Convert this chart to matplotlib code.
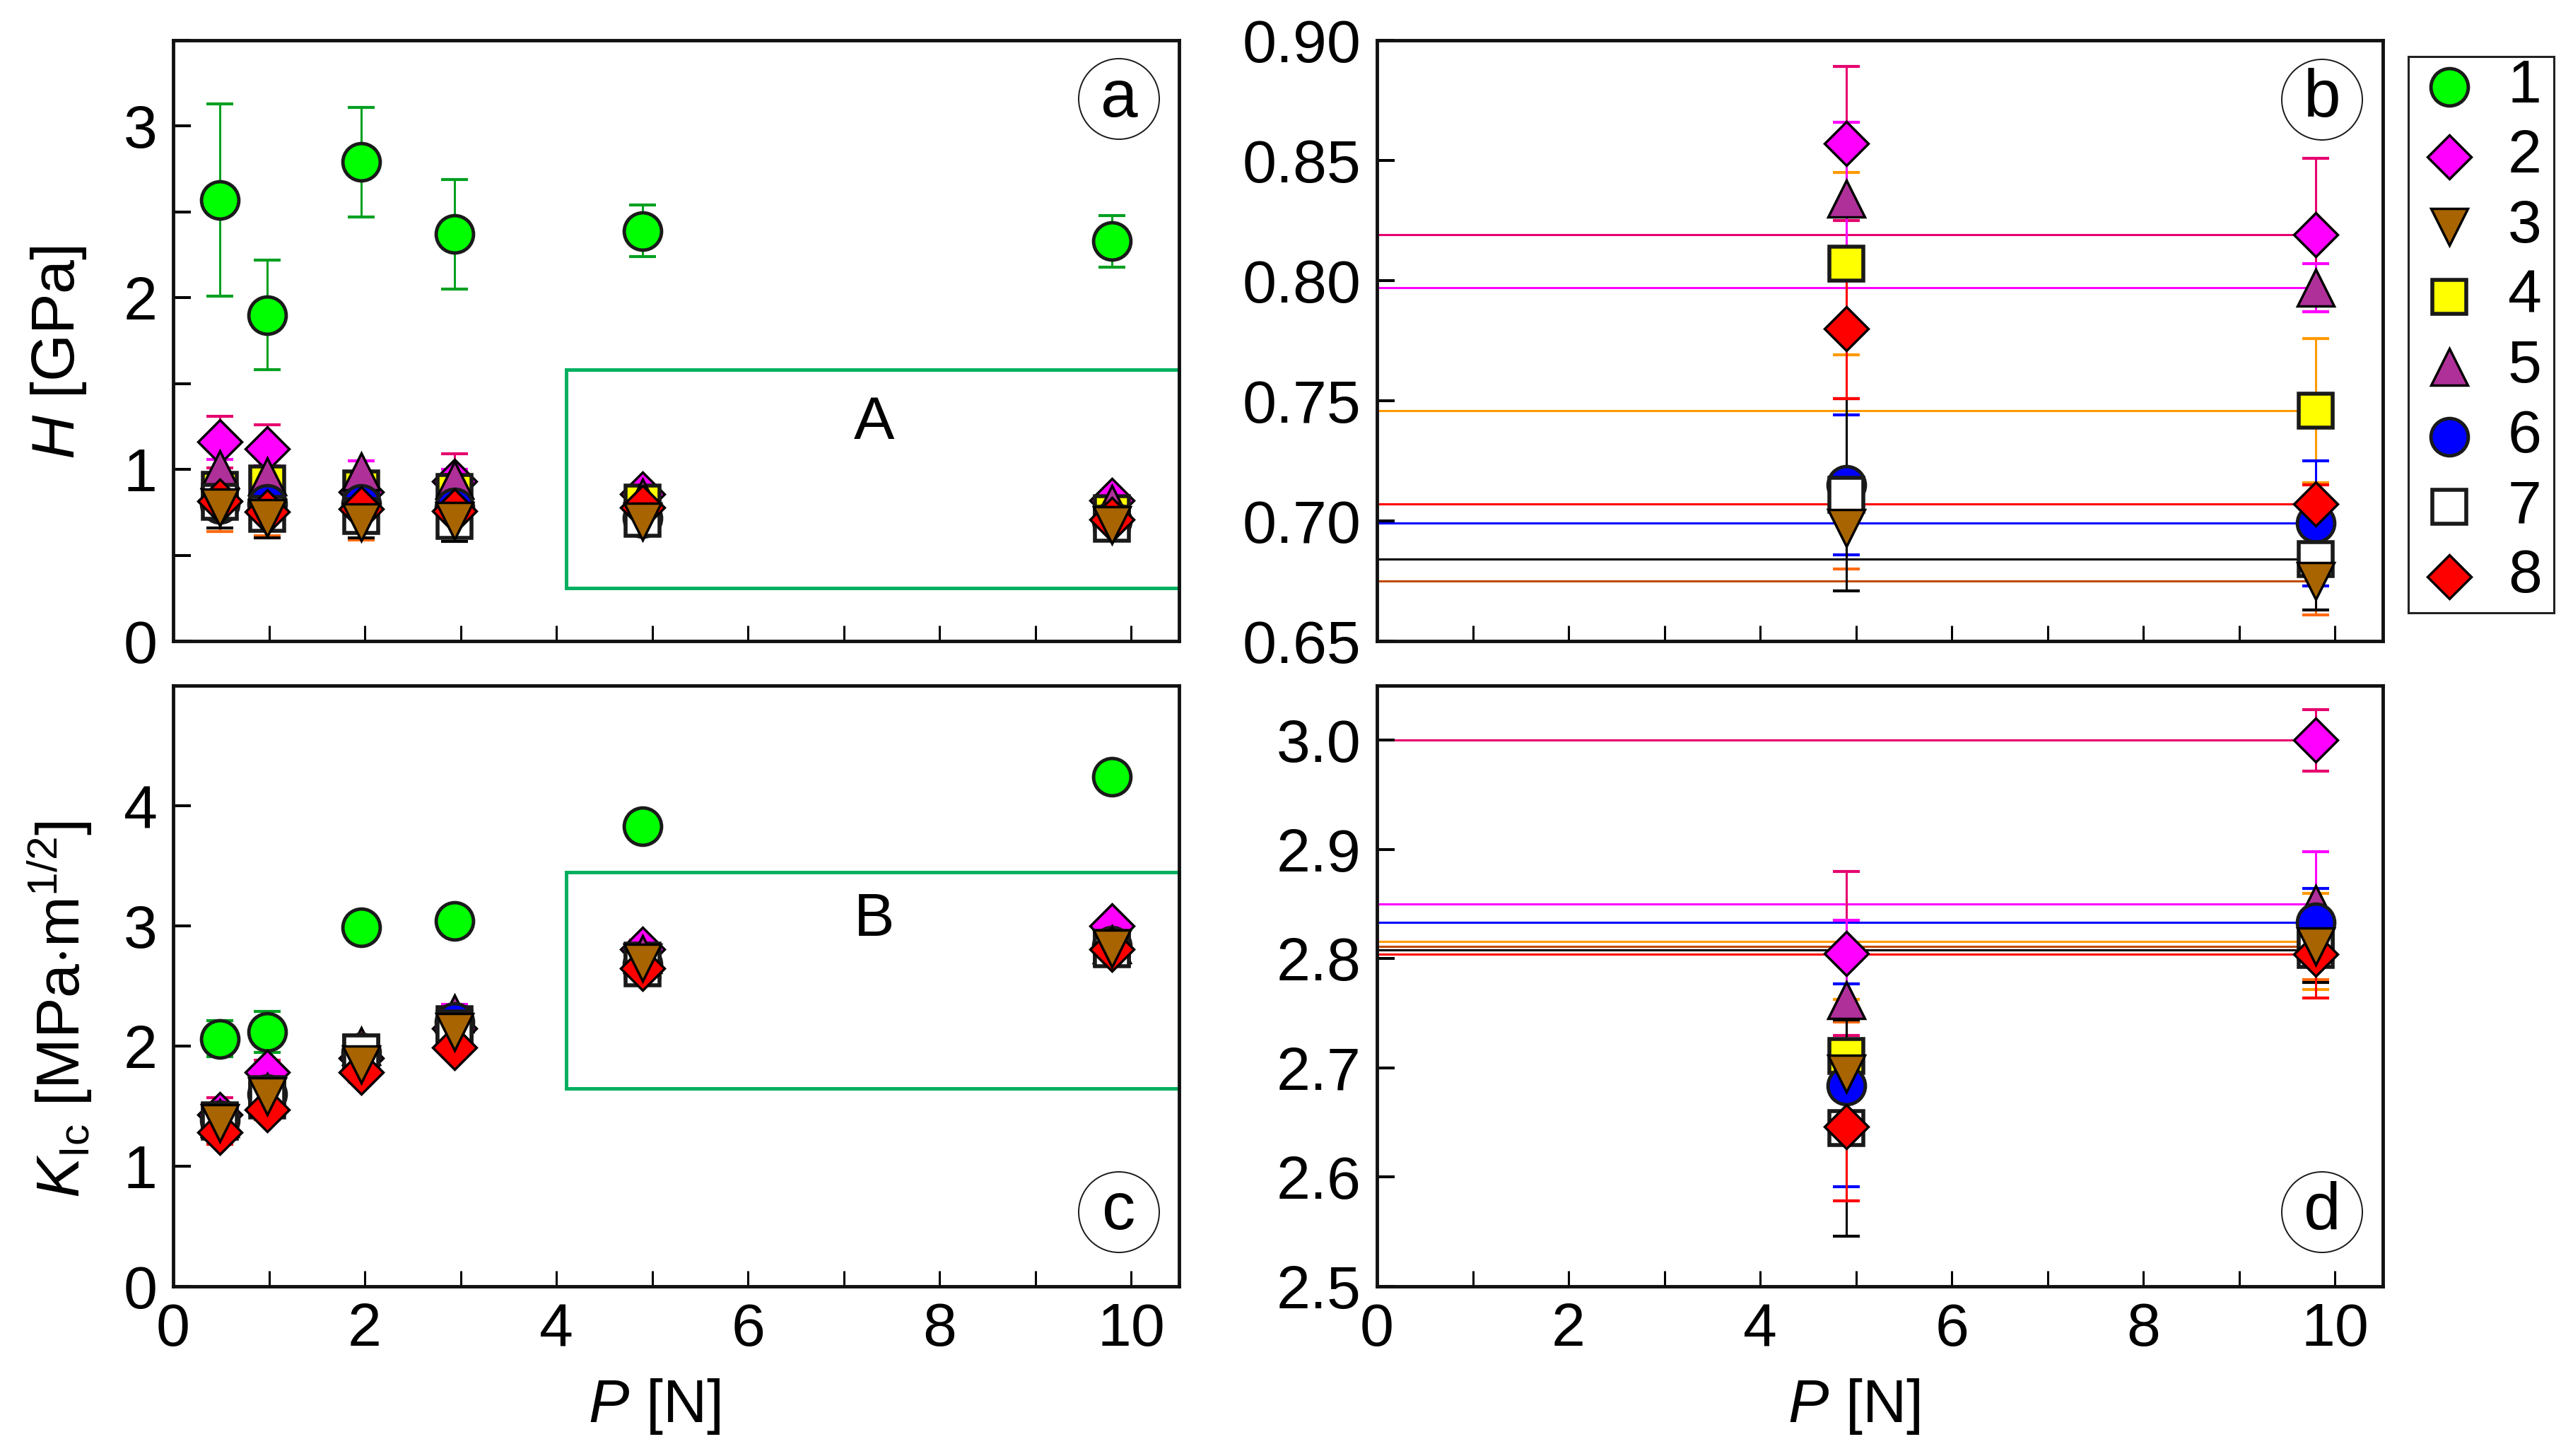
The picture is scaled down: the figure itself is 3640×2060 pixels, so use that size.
import matplotlib
matplotlib.use('Agg')
import matplotlib.pyplot as plt
from matplotlib.patches import Rectangle, Ellipse
from matplotlib.ticker import MultipleLocator, FixedLocator, FormatStrFormatter

plt.rcParams['font.family'] = ['Liberation Sans', 'DejaVu Sans']
plt.rcParams['mathtext.fontset'] = 'custom'
plt.rcParams['mathtext.rm'] = 'Liberation Sans'
plt.rcParams['mathtext.it'] = 'Liberation Sans:italic'
plt.rcParams['mathtext.bf'] = 'Liberation Sans:bold'

# ---------------- data ----------------
loads = [0.49, 0.98, 1.96, 2.94, 4.9, 9.8]          # P [N]
series_labels = ['1', '2', '3', '4', '5', '6', '7', '8']

# Hardness H [GPa]
H_1 = [2.57, 1.90, 2.79, 2.37, 2.39, 2.33]
H_2 = [1.16, 1.12, 0.87, 0.93, 0.857, 0.819]
H_3 = [0.78, 0.715, 0.69, 0.70, 0.697, 0.675]
H_4 = [0.88, 0.92, 0.89, 0.87, 0.807, 0.746]
H_5 = [1.00, 0.96, 0.99, 0.94, 0.834, 0.797]
H_6 = [0.80, 0.80, 0.80, 0.78, 0.715, 0.699]
H_7 = [0.81, 0.74, 0.73, 0.70, 0.711, 0.684]
H_8 = [0.816, 0.754, 0.768, 0.757, 0.780, 0.707]

H_err_1 = [0.56, 0.32, 0.32, 0.32, 0.15, 0.15]
H_err_2 = [0.15, 0.14, 0.18, 0.16, 0.032, 0.032]
H_err_3 = [0.14, 0.10, 0.10, 0.10, 0.017, 0.014]
H_err_4 = [0.06, 0.06, 0.06, 0.06, 0.038, 0.030]
H_err_5 = [0.06, 0.06, 0.06, 0.06, 0.032, 0.010]
H_err_6 = [0.06, 0.06, 0.06, 0.06, 0.029, 0.026]
H_err_7 = [0.15, 0.14, 0.13, 0.12, 0.040, 0.021]
H_err_8 = [0.05, 0.05, 0.05, 0.05, 0.029, 0.008]

# Fracture toughness K_Ic [MPa m^1/2]
K_1 = [2.06, 2.12, 2.99, 3.04, 3.83, 4.24]
K_2 = [1.43, 1.78, 1.90, 2.15, 2.805, 3.00]
K_3 = [1.36, 1.58, 1.85, 2.12, 2.695, 2.811]
K_4 = [1.38, 1.60, 1.95, 2.18, 2.711, 2.816]
K_5 = [1.40, 1.62, 2.00, 2.27, 2.762, 2.850]
K_6 = [1.38, 1.60, 1.95, 2.20, 2.684, 2.833]
K_7 = [1.37, 1.55, 1.95, 2.15, 2.645, 2.808]
K_8 = [1.28, 1.47, 1.78, 1.99, 2.646, 2.804]

K_err_1 = [0.15, 0.17, 0.05, 0.05, 0.05, 0.05]
K_err_2 = [0.14, 0.10, 0.10, 0.10, 0.075, 0.028]
K_err_3 = [0.08, 0.08, 0.08, 0.08, 0.047, 0.030]
K_err_4 = [0.08, 0.08, 0.08, 0.08, 0.052, 0.044]
K_err_5 = [0.08, 0.08, 0.08, 0.08, 0.073, 0.048]
K_err_6 = [0.08, 0.08, 0.08, 0.08, 0.093, 0.031]
K_err_7 = [0.08, 0.08, 0.08, 0.08, 0.099, 0.030]
K_err_8 = [0.10, 0.08, 0.08, 0.08, 0.068, 0.040]

H_vals = [H_1, H_2, H_3, H_4, H_5, H_6, H_7, H_8]
H_errs = [H_err_1, H_err_2, H_err_3, H_err_4, H_err_5, H_err_6, H_err_7, H_err_8]
K_vals = [K_1, K_2, K_3, K_4, K_5, K_6, K_7, K_8]
K_errs = [K_err_1, K_err_2, K_err_3, K_err_4, K_err_5, K_err_6, K_err_7, K_err_8]

# zoomed panels (b, d) show only the two highest loads
ZOOM_FROM = 4

# ---------------- styles ----------------
markers = ['o', 'D', 'v', 's', '^', 'o', 's', 'D']
faces = ['#00ff00', '#ff00ff', '#a86400', '#ffff00', '#b0309a', '#0000ff', '#ffffff', '#ff0000']
edges = ['#1a1a1a', '#000000', '#000000', '#1a1a1a', '#000000', '#1a1a1a', '#1a1a1a', '#000000']
msizes = [38, 32, 37, 34, 37, 38, 34, 32]
mews = [3.5, 2.5, 2.5, 4.0, 2.5, 3.5, 4.0, 2.5]
err_colors = ['#00a020', '#e6006e', '#ff6a10', '#ff9900', '#ff00ff', '#0000ff', '#000000', '#ff0000']
line_colors = ['#00a020', '#e6006e', '#c04a00', '#ff9900', '#ff00ff', '#0000ff', '#000000', '#ff0000']
zorders = [3, 4, 11, 5, 6, 7, 8, 10]

W, Hpx = 3640, 2060
fig = plt.figure(figsize=(W / 100, Hpx / 100), dpi=100)


def ax_at(l, t, r, b):
    return fig.add_axes([l / W, 1 - b / Hpx, (r - l) / W, (b - t) / Hpx])


ax_a = ax_at(245, 57, 1668, 907)
ax_b = ax_at(1948, 57, 3371, 907)
ax_c = ax_at(245, 970, 1668, 1820)
ax_d = ax_at(1948, 970, 3371, 1820)

FS = 62


def draw(ax, vals, errs, start, hlines):
    xs = loads[start:]
    for i in range(8):
        ax.errorbar(xs, vals[i][start:], yerr=errs[i][start:], fmt='none', ecolor=err_colors[i],
                    elinewidth=2.2, capsize=13.7, capthick=3.0, zorder=2)
    if hlines:
        for i in range(8):
            ax.hlines(vals[i][-1], 0, loads[-1], colors=line_colors[i], lw=2.2, zorder=1.5)
    for i in range(8):
        ax.plot(xs, vals[i][start:], linestyle='none', marker=markers[i], ms=msizes[i],
                mfc=faces[i], mec=edges[i], mew=mews[i], zorder=zorders[i])


def style(ax, show_x):
    ax.set_xlim(0, 10.5)
    ax.xaxis.set_major_locator(MultipleLocator(2))
    ax.xaxis.set_minor_locator(MultipleLocator(1))
    ax.tick_params(axis='x', which='both', direction='in', length=16, width=2.2,
                   labelsize=FS, pad=16, top=False, labelbottom=show_x)
    ax.tick_params(axis='y', which='both', direction='in', length=18, width=2.9,
                   labelsize=FS, pad=16, right=False)
    for sp in ax.spines.values():
        sp.set_linewidth(3.5)
        sp.set_color('#111111')


draw(ax_a, H_vals, H_errs, 0, False)
draw(ax_b, H_vals, H_errs, ZOOM_FROM, True)
draw(ax_c, K_vals, K_errs, 0, False)
draw(ax_d, K_vals, K_errs, ZOOM_FROM, True)

for ax, sx in [(ax_a, False), (ax_b, False), (ax_c, True), (ax_d, True)]:
    style(ax, sx)

ax_a.set_ylim(0, 3.5)
ax_a.yaxis.set_major_locator(FixedLocator([0, 1, 2, 3]))
ax_a.yaxis.set_minor_locator(MultipleLocator(0.5))

ax_c.set_ylim(0, 5)
ax_c.yaxis.set_major_locator(FixedLocator([0, 1, 2, 3, 4]))

ax_b.set_ylim(0.65, 0.90)
ax_b.yaxis.set_major_locator(FixedLocator([0.65, 0.70, 0.75, 0.80, 0.85, 0.90]))
ax_b.yaxis.set_major_formatter(FormatStrFormatter('%.2f'))

ax_d.set_ylim(2.5, 3.05)
ax_d.yaxis.set_major_locator(FixedLocator([2.5, 2.6, 2.7, 2.8, 2.9, 3.0]))
ax_d.yaxis.set_major_formatter(FormatStrFormatter('%.1f'))

# green zoom boxes
box_green = '#00b060'
ax_a.add_patch(Rectangle((4.1, 0.31), 6.4, 1.27, fill=False, ec=box_green, lw=3.6,
                         clip_on=False, zorder=1))
ax_a.text(7.32, 1.27, 'A', ha='center', va='center', fontsize=FS)
ax_c.add_patch(Rectangle((4.1, 1.65), 6.4, 1.80, fill=False, ec=box_green, lw=3.6,
                         clip_on=False, zorder=1))
ax_c.text(7.32, 3.05, 'B', ha='center', va='center', fontsize=FS)

# axis labels
fig.text(83 / W, 1 - 499 / Hpx, r'$\mathit{H}$ [GPa]', rotation=90, ha='center', va='center',
         fontsize=FS)
fig.text(85 / W, 1 - 1428 / Hpx, r'$\mathit{K}_{\mathrm{Ic}}$ [MPa$\cdot$m$^{1/2}$]', rotation=90,
         ha='center', va='center', fontsize=FS)
fig.text(926 / W, 1 - 1990 / Hpx, r'$\mathit{P}$ [N]', ha='center', va='center', fontsize=FS)
fig.text(2623 / W, 1 - 1990 / Hpx, r'$\mathit{P}$ [N]', ha='center', va='center', fontsize=FS)

# circled panel letters
for letter, (cx, cy) in zip(['a', 'b', 'c', 'd'],
                            [(1583, 140), (3285, 141), (1583, 1715), (3285, 1715)]):
    fig.add_artist(Ellipse((cx / W, 1 - cy / Hpx), 114 / W, 114 / Hpx,
                           transform=fig.transFigure, fill=False, lw=1.4, ec='#1a1a1a'))
    fig.text(cx / W, 1 - cy / Hpx, letter, ha='center', va='center', fontsize=68)

# legend box
ax_l = ax_at(3407, 80, 3613, 867)
ax_l.set_xlim(0, 1)
ax_l.set_ylim(7.515, -0.434)
ax_l.set_xticks([])
ax_l.set_yticks([])
for sp in ax_l.spines.values():
    sp.set_linewidth(2.2)
    sp.set_color('#222222')
for i, lab in enumerate(series_labels):
    ax_l.plot([0.28], [i], linestyle='none', marker=markers[i], ms=msizes[i],
              mfc=faces[i], mec=edges[i], mew=mews[i], clip_on=False)
    ax_l.text(0.80, i, lab, ha='center', va='center', fontsize=FS)

fig.savefig('out.png', dpi=100)
